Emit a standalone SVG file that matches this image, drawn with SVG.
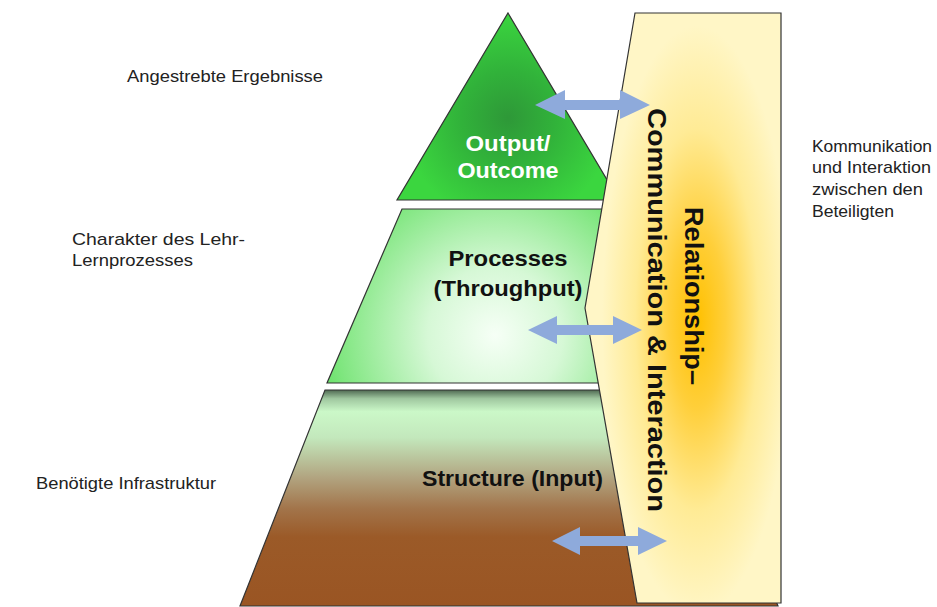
<svg xmlns="http://www.w3.org/2000/svg" width="937" height="607" viewBox="0 0 937 607">
<defs>
<style>
.lbl{font-family:"Liberation Sans",Arial,sans-serif;font-size:17px;fill:#222;}
.big{font-family:"Liberation Sans",Arial,sans-serif;font-size:22px;font-weight:bold;fill:#111;}
.rot{font-family:"Liberation Sans",Arial,sans-serif;font-size:26px;font-weight:bold;fill:#111;}
.shape{stroke:#333;stroke-width:1.2;stroke-linejoin:miter;}
.arrow{fill:#8EAADB;}
</style>
<radialGradient id="gTri" gradientUnits="userSpaceOnUse" cx="508" cy="118" r="105">
<stop offset="0" stop-color="#2E9838"/>
<stop offset="0.45" stop-color="#31B23A"/>
<stop offset="1" stop-color="#3BD63F"/>
</radialGradient>
<radialGradient id="gProc" gradientUnits="userSpaceOnUse" cx="495" cy="335" r="225">
<stop offset="0" stop-color="#F6FFF6"/>
<stop offset="0.3" stop-color="#D6F8D6"/>
<stop offset="0.7" stop-color="#7FE67F"/>
<stop offset="1" stop-color="#33D933"/>
</radialGradient>
<linearGradient id="gStruct" gradientUnits="userSpaceOnUse" x1="0" y1="390" x2="0" y2="606">
<stop offset="0" stop-color="#4F6A52"/>
<stop offset="0.04" stop-color="#9FC79F"/>
<stop offset="0.1" stop-color="#CBF8C8"/>
<stop offset="0.22" stop-color="#C3E8BC"/>
<stop offset="0.4" stop-color="#B2A682"/>
<stop offset="0.55" stop-color="#A2744A"/>
<stop offset="0.68" stop-color="#9B5A28"/>
<stop offset="1" stop-color="#9A5523"/>
</linearGradient>
<radialGradient id="gPanel" gradientUnits="userSpaceOnUse" cx="697" cy="320" r="95" gradientTransform="translate(697,320) scale(1,3.1) translate(-697,-320)">
<stop offset="0" stop-color="#FFC000"/>
<stop offset="0.3" stop-color="#FFCF3A"/>
<stop offset="0.65" stop-color="#FFEB96"/>
<stop offset="1" stop-color="#FFF6C6"/>
</radialGradient>
</defs>

<g id="output-outcome">
<polygon class="shape" points="508,13 619,200 397,200" fill="url(#gTri)"/>
<text class="big" x="508" y="151" text-anchor="middle" style="fill:#fff" textLength="85" lengthAdjust="spacingAndGlyphs">Output/</text>
<text class="big" x="508" y="178" text-anchor="middle" style="fill:#fff" textLength="101" lengthAdjust="spacingAndGlyphs">Outcome</text>
</g>

<g id="processes">
<polygon class="shape" points="402,209 614,209 689,383 327,383" fill="url(#gProc)"/>
<text class="big" x="508" y="266" text-anchor="middle" textLength="119" lengthAdjust="spacingAndGlyphs">Processes</text>
<text class="big" x="508" y="296" text-anchor="middle" textLength="149" lengthAdjust="spacingAndGlyphs">(Throughput)</text>
</g>

<g id="structure">
<polygon class="shape" points="325,390 691,390 778,606 240,606" fill="url(#gStruct)"/>
<text class="big" x="422" y="486" textLength="181" lengthAdjust="spacingAndGlyphs">Structure (Input)</text>
</g>

<g id="relationship">
<polygon class="shape" points="635,13 781,13 781,603 637,603 585,308" fill="url(#gPanel)"/>
<text class="rot" transform="translate(685,207) rotate(90)" x="0" y="0" textLength="178" lengthAdjust="spacingAndGlyphs">Relationship–</text>
<text class="rot" transform="translate(648,108) rotate(90)" x="0" y="0" textLength="404" lengthAdjust="spacingAndGlyphs">Communication &amp; Interaction</text>
</g>

<g id="connectors">
<polygon class="arrow" points="535,105 565,90 565,100 620,100 620,90 650,105 620,119 620,110 565,110 565,119"/>
<polygon class="arrow" points="528,330 557,316 557,325 613,325 613,316 642,330 613,344 613,335 557,335 557,344"/>
<polygon class="arrow" points="552,541 580,527 580,536 638,536 638,527 667,541 638,555 638,546 580,546 580,555"/>
</g>

<g id="labels-left">
<text class="lbl" x="127" y="82" textLength="196" lengthAdjust="spacingAndGlyphs">Angestrebte  Ergebnisse</text>
<text class="lbl" x="72" y="245" textLength="173" lengthAdjust="spacingAndGlyphs">Charakter des Lehr-</text>
<text class="lbl" x="72" y="266" textLength="121" lengthAdjust="spacingAndGlyphs">Lernprozesses</text>
<text class="lbl" x="36" y="489" textLength="180" lengthAdjust="spacingAndGlyphs">Benötigte  Infrastruktur</text>
</g>

<g id="labels-right">
<text class="lbl" x="812" y="152" textLength="120" lengthAdjust="spacingAndGlyphs">Kommunikation</text>
<text class="lbl" x="812" y="173" textLength="119" lengthAdjust="spacingAndGlyphs">und Interaktion</text>
<text class="lbl" x="812" y="195" textLength="111" lengthAdjust="spacingAndGlyphs">zwischen den</text>
<text class="lbl" x="812" y="217" textLength="82" lengthAdjust="spacingAndGlyphs">Beteiligten</text>
</g>
</svg>
